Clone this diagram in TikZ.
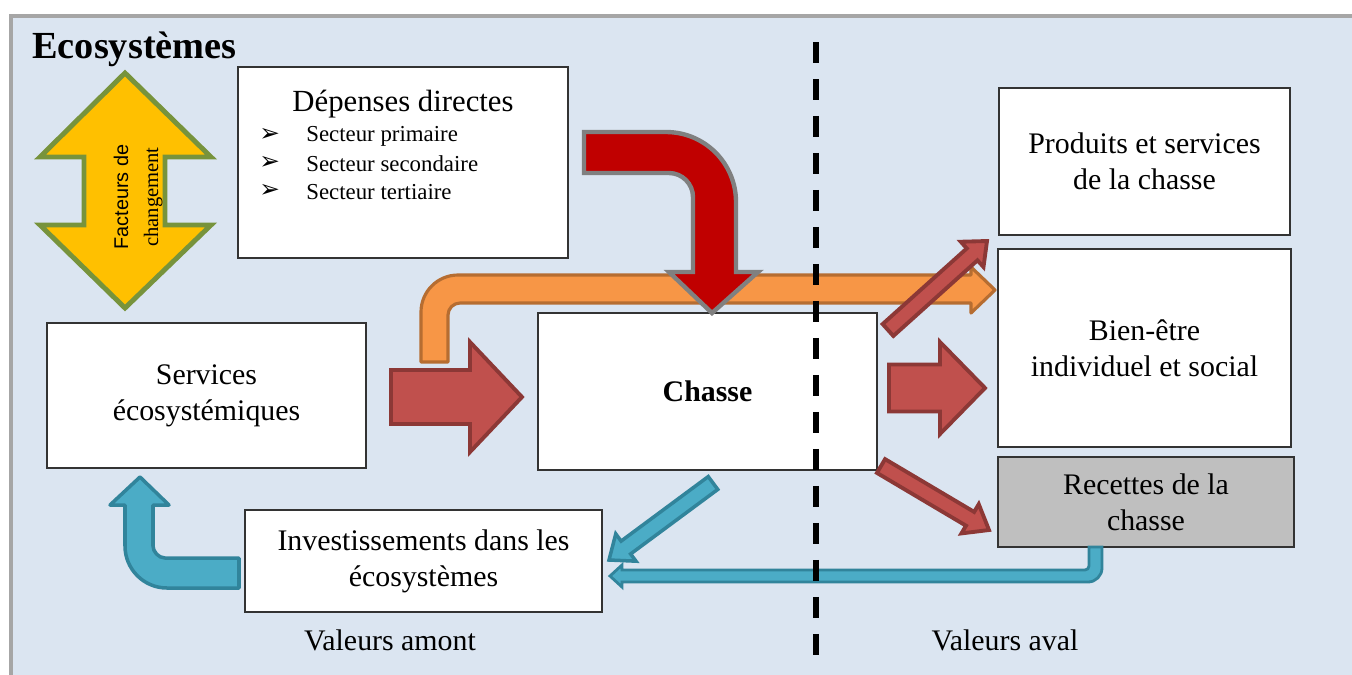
\documentclass[tikz,border=0pt]{standalone}
\usepackage{fontspec}
\setmainfont{Liberation Serif}
\newfontfamily\arialf{Liberation Sans}
\newfontfamily\dejavuf{DejaVu Sans}
\usetikzlibrary{calc}

\definecolor{bgblue}{HTML}{DBE5F1}
\definecolor{framegray}{HTML}{A6A6A6}
\definecolor{gold}{HTML}{FFC000}
\definecolor{olive}{HTML}{77933C}
\definecolor{deepred}{HTML}{C00000}
\definecolor{brick}{HTML}{C0504D}
\definecolor{brickdark}{HTML}{8C3836}
\definecolor{orangefill}{HTML}{F79646}
\definecolor{orangedark}{HTML}{B66D31}
\definecolor{teal}{HTML}{4BACC6}
\definecolor{tealdark}{HTML}{31849B}
\definecolor{recgray}{HTML}{BFBFBF}

% straight block arrow: style, from, to, half shaft, half head, head length
\newcommand{\blockarrow}[6]{%
  \coordinate (hb) at ($(#3)!#6!(#2)$);
  \path[#1] ($(#2)!#4!90:(#3)$) -- ($(hb)!#4!90:(#3)$) -- ($(hb)!#5!90:(#3)$) -- (#3)
    -- ($(hb)!#5!-90:(#3)$) -- ($(hb)!#4!-90:(#3)$) -- ($(#2)!#4!-90:(#3)$) -- cycle;}

\tikzset{
  valbox/.style={draw=black!80, fill=white, line width=1pt, inner sep=0pt, align=center,
    font=\fontsize{17}{20.4}\selectfont},
  brickarrow/.style={fill=brick, draw=brickdark, line width=2.2pt, line join=miter},
  tealarrow/.style={fill=teal, draw=tealdark, line width=2pt, line join=miter},
}

\begin{document}
\begin{tikzpicture}[x=0.02cm, y=-0.02cm]
  \useasboundingbox (0,0) rectangle (1352,674);
  \clip (0,0) rectangle (1352,674);
  \draw[line width=2.3pt, draw=framegray, fill=bgblue] (11,16) rectangle (1400,720);

  \node[anchor=base west, inner sep=0pt, font=\fontsize{21.8}{26}\selectfont\bfseries] (title) at (32,58) {Ecosystèmes};

  % boxes
  \node[valbox, minimum width=6.6cm, minimum height=3.82cm] (dep) at (403,162.5) {};
  \node[valbox, minimum width=5.82cm, minimum height=2.94cm] (prod) at (1144.5,161.5) {Produits et services\\de la chasse};
  \node[valbox, minimum width=5.86cm, minimum height=3.96cm] (bien) at (1144.5,348) {Bien-être\\individuel et social};
  \node[valbox, fill=recgray, minimum width=5.92cm, minimum height=1.8cm] (rec) at (1146,502) {Recettes de la\\chasse};
  \node[valbox, minimum width=6.38cm, minimum height=2.9cm] (serv) at (206.5,395.5) {Services\\écosystémiques};
  \node[valbox, minimum width=6.78cm, minimum height=3.14cm] (chasse) at (707.5,391.5) {\bfseries Chasse};
  \node[valbox, minimum width=7.14cm, minimum height=2.04cm] (inv) at (423.5,561) {Investissements dans les\\écosystèmes};

  \node[font=\fontsize{17.5}{21}\selectfont] (deptitle) at (403,104) {Dépenses directes};
  \foreach \s [count=\i] in {primaire, secondaire, tertiaire} {
    \node[anchor=west, inner sep=0pt, font=\dejavuf\fontsize{14}{16}\selectfont] (bul\i) at (259,107+28*\i) {➢};
    \node[anchor=west, inner sep=0pt, font=\fontsize{13}{15}\selectfont] (sec\i) at (306,108+28*\i) {Secteur \s};
  }

  % facteurs de changement
  \path[fill=gold, draw=olive, line width=2.8pt, line join=miter] (125,73) -- (211,157) -- (165,157)
    -- (165,225) -- (211,225) -- (125,308) -- (40,225) -- (84,225) -- (84,157) -- (40,157) -- cycle;
  \node[rotate=90, anchor=base, font=\arialf\fontsize{11.3}{13}\selectfont] (fact) at (128,197) {Facteurs de};
  \node[rotate=90, anchor=base, font=\fontsize{11.7}{13}\selectfont] (chg) at (158,197) {changement};

  % orange arrow
  \path[fill=orangefill, draw=orangedark, line width=1.8pt, line join=round]
    (421,362) -- (421,312) .. controls (421,291.6) and (437.6,275) .. (458,275) -- (971,275)
    -- (971,267) -- (995,290) -- (971,313) -- (971,303) -- (460,303)
    .. controls (453.4,303) and (448,308.4) .. (448,315) -- (448,362) -- cycle;

  % depenses -> chasse
  \path[fill=deepred, draw=black!50, line width=2.5pt, line join=miter]
    (584,132) -- (666,132) .. controls (704.7,132) and (736,163.3) .. (736,202) -- (736,272)
    -- (758,272) -- (712,313) -- (669,272) -- (693,272) -- (693,197)
    .. controls (693,183.8) and (682.2,173) .. (669,173) -- (584,173) -- cycle;

  % straight arrows
  \coordinate (s1) at (391,397);  \coordinate (s2) at (522,397);
  \blockarrow{brickarrow}{s1}{s2}{0.54cm}{1.1cm}{1.04cm}
  \coordinate (b1) at (889,388);  \coordinate (b2) at (985,388);
  \blockarrow{brickarrow}{b1}{b2}{0.47cm}{0.92cm}{0.9cm}
  \coordinate (p1) at (888,330);  \coordinate (p2) at (987,241);
  \blockarrow{brickarrow}{p1}{p2}{0.16cm}{0.34cm}{0.4cm}
  \coordinate (r1) at (881,466);  \coordinate (r2) at (989,530);
  \blockarrow{brickarrow}{r1}{r2}{0.16cm}{0.34cm}{0.44cm}
  \coordinate (i1) at (713,483);  \coordinate (i2) at (609,560);
  \blockarrow{tealarrow}{i1}{i2}{0.16cm}{0.34cm}{0.42cm}

  % recettes -> investissements
  \path[tealarrow, line width=1.6pt]
    (1089,547) -- (1089,566) .. controls (1089,568.2) and (1087.2,570) .. (1085,570) -- (622,570)
    -- (622,565) -- (610,576) -- (622,587) -- (622,582) -- (1088,582)
    .. controls (1095.7,582) and (1102,575.7) .. (1102,568) -- (1102,547) -- cycle;

  % investissements -> services
  \path[tealarrow, line join=round]
    (239,558) -- (165,558) .. controls (158.4,558) and (153,551.4) .. (153,546) -- (153,505)
    -- (169,505) -- (140,477) -- (110,505) -- (125,505) -- (125,546)
    .. controls (125,569.2) and (143.8,588) .. (167,588) -- (239,588) -- cycle;

  \node[font=\fontsize{17}{20}\selectfont] (amont) at (390,640) {Valeurs amont};
  \node[font=\fontsize{17}{20}\selectfont] (aval) at (1005,640) {Valeurs aval};

  \draw[line width=3.4pt, dash pattern=on 0.42cm off 0.32cm] (816,42) -- (816,662);
\end{tikzpicture}
\end{document}
